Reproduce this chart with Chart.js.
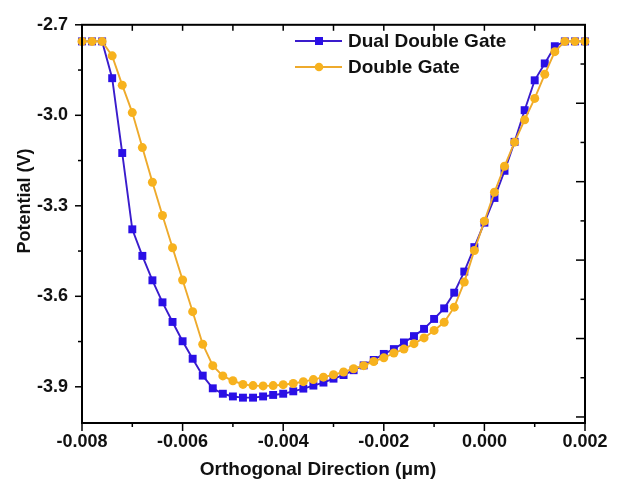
<!DOCTYPE html>
<html>
<head>
<meta charset="utf-8">
<script src="https://cdn.jsdelivr.net/npm/chart.js@4/dist/chart.umd.min.js"></script>
<style>
  html, body { margin: 0; padding: 0; background: #fff; }
  #wrap { width: 619px; height: 484px; }
</style>
</head>
<body>
<div id="wrap"><canvas id="grafico" width="619" height="484"></canvas></div>
<script>
// orthogonal direction (um)
const xValues = [
  -0.008, -0.0078, -0.0076, -0.0074, -0.0072, -0.007, -0.0068, -0.0066, -0.0064, -0.0062,
  -0.006, -0.0058, -0.0056, -0.0054, -0.0052, -0.005, -0.0048, -0.0046, -0.0044, -0.0042,
  -0.004, -0.0038, -0.0036, -0.0034, -0.0032, -0.003, -0.0028, -0.0026, -0.0024, -0.0022,
  -0.002, -0.0018, -0.0016, -0.0014, -0.0012, -0.001, -0.0008, -0.0006, -0.0004, -0.0002,
  0, 0.0002, 0.0004, 0.0006, 0.0008, 0.001, 0.0012, 0.0014, 0.0016, 0.0018, 0.002
];
// potential (V)
const dualDoubleGate = [
  -2.755, -2.755, -2.755, -2.877, -3.125, -3.378, -3.466, -3.547, -3.620, -3.685,
  -3.749, -3.807, -3.863, -3.905, -3.923, -3.932, -3.936, -3.936, -3.932, -3.927,
  -3.923, -3.915, -3.906, -3.896, -3.886, -3.873, -3.861, -3.845, -3.829, -3.811,
  -3.791, -3.775, -3.753, -3.732, -3.708, -3.675, -3.640, -3.588, -3.518, -3.437,
  -3.356, -3.274, -3.184, -3.088, -2.983, -2.884, -2.828, -2.771, -2.755, -2.755, -2.755
];
const doubleGate = [
  -2.755, -2.755, -2.755, -2.803, -2.900, -2.991, -3.107, -3.222, -3.332, -3.439,
  -3.546, -3.651, -3.759, -3.830, -3.864, -3.880, -3.892, -3.896, -3.897, -3.896,
  -3.893, -3.889, -3.883, -3.876, -3.868, -3.860, -3.851, -3.840, -3.830, -3.816,
  -3.804, -3.788, -3.775, -3.757, -3.738, -3.713, -3.686, -3.636, -3.553, -3.448,
  -3.351, -3.255, -3.169, -3.089, -3.015, -2.944, -2.864, -2.789, -2.755, -2.755, -2.755
];
const seriesNames = ['Dual Double Gate', 'Double Gate'];

const xMajorTicks = [-0.008, -0.006, -0.004, -0.002, 0, 0.002];
const xMinorTicks = [-0.007, -0.005, -0.003, -0.001, 0.001];
const yMajorTicks = [-3.9, -3.6, -3.3, -3.0, -2.7];
const yMinorTicks = [-3.75, -3.45, -3.15, -2.85];
const rightMajorTicks = [-2.96, -3.22, -3.48, -3.74, -4.0];
const rightMinorTicks = [-2.83, -3.09, -3.35, -3.61, -3.87];

const FONT = 'Arial, "Liberation Sans", sans-serif';

// frame, tick marks, axis titles
const molduraPlugin = {
  id: 'moldura',
  afterDatasetsDraw(chart) {
    const { ctx, chartArea: a, scales: { x, y } } = chart;
    const risco = (x1, y1, x2, y2) => {
      ctx.beginPath(); ctx.moveTo(x1, y1); ctx.lineTo(x2, y2); ctx.stroke();
    };
    ctx.save();
    ctx.strokeStyle = '#000';
    ctx.lineWidth = 1.5;
    xMajorTicks.forEach(v => { const p = x.getPixelForValue(v); risco(p, a.bottom, p, a.bottom + 8); });
    xMinorTicks.forEach(v => { const p = x.getPixelForValue(v); risco(p, a.bottom, p, a.bottom + 4); });
    xMajorTicks.concat(xMinorTicks).forEach(v => {
      const p = x.getPixelForValue(v); risco(p, a.top, p, a.top + 6);
    });
    yMajorTicks.forEach(v => { const p = y.getPixelForValue(v); risco(a.left - 7, p, a.left, p); });
    yMinorTicks.forEach(v => { const p = y.getPixelForValue(v); risco(a.left - 4, p, a.left, p); });
    rightMajorTicks.forEach(v => { const p = y.getPixelForValue(v); risco(a.right - 9, p, a.right, p); });
    rightMinorTicks.forEach(v => { const p = y.getPixelForValue(v); risco(a.right - 4.5, p, a.right, p); });
    ctx.lineWidth = 2;
    ctx.strokeRect(a.left, a.top, a.right - a.left, a.bottom - a.top);

    ctx.fillStyle = '#111';
    ctx.textAlign = 'center';
    ctx.textBaseline = 'middle';
    ctx.font = 'bold 19px ' + FONT;
    ctx.fillText('Orthogonal Direction (\u03bcm)', 318, 470);
    ctx.translate(25, 201);
    ctx.rotate(-Math.PI / 2);
    ctx.font = 'bold 18px ' + FONT;
    ctx.fillText('Potential (V)', 0, 0);
    ctx.restore();
  }
};

// legend inside the plot
const legendaPlugin = {
  id: 'legenda',
  afterDraw(chart) {
    const { ctx } = chart;
    ctx.save();
    chart.data.datasets.forEach((ds, i) => {
      const yy = 41 + i * 26;
      ctx.strokeStyle = ds.borderColor;
      ctx.lineWidth = 2;
      ctx.beginPath(); ctx.moveTo(295, yy); ctx.lineTo(342, yy); ctx.stroke();
      ctx.fillStyle = ds.pointBackgroundColor;
      if (ds.pointStyle === 'rect') {
        ctx.fillRect(319 - 4, yy - 4, 8, 8);
      } else {
        ctx.beginPath(); ctx.arc(319, yy, 4.3, 0, Math.PI * 2); ctx.fill();
      }
      ctx.fillStyle = '#111';
      ctx.font = 'bold 19px ' + FONT;
      ctx.textAlign = 'left';
      ctx.textBaseline = 'middle';
      ctx.fillText(ds.label, 348, yy + 1);
    });
    ctx.restore();
  }
};

const ctx = document.getElementById('grafico').getContext('2d');
new Chart(ctx, {
  type: 'line',
  data: {
    datasets: [
      {
        label: seriesNames[0],
        data: xValues.map((v, i) => ({ x: v, y: dualDoubleGate[i] })),
        borderColor: '#3a1ccc',
        borderWidth: 1.9,
        pointStyle: 'rect',
        pointRadius: 5.6,
        pointBackgroundColor: '#2a0fe6',
        pointBorderWidth: 0,
        tension: 0,
        order: 1
      },
      {
        label: seriesNames[1],
        data: xValues.map((v, i) => ({ x: v, y: doubleGate[i] })),
        borderColor: '#eeaa2c',
        borderWidth: 1.9,
        pointStyle: 'circle',
        pointRadius: 4.5,
        pointBackgroundColor: '#f7b21e',
        pointBorderWidth: 0,
        tension: 0,
        order: 0
      }
    ]
  },
  options: {
    responsive: false,
    animation: false,
    clip: false,
    layout: { padding: { top: 14, right: 34, left: 0, bottom: 0 } },
    plugins: { legend: { display: false }, tooltip: { enabled: false } },
    scales: {
      x: {
        type: 'linear',
        min: -0.008,
        max: 0.002,
        grid: { display: false, drawTicks: false },
        border: { display: false },
        afterBuildTicks: s => { s.ticks = xMajorTicks.map(v => ({ value: v })); },
        afterFit: s => { s.height = 61; },
        ticks: {
          padding: 8,
          color: '#111',
          font: { family: FONT, size: 18, weight: 'bold' },
          callback: v => Number(v).toFixed(3)
        }
      },
      y: {
        type: 'linear',
        min: -4.02,
        max: -2.7,
        grid: { display: false, drawTicks: false },
        border: { display: false },
        afterBuildTicks: s => { s.ticks = yMajorTicks.map(v => ({ value: v })); },
        afterFit: s => { s.width = 82; },
        ticks: {
          padding: 14,
          color: '#111',
          font: { family: FONT, size: 18, weight: 'bold' },
          callback: v => Number(v).toFixed(1)
        }
      }
    }
  },
  plugins: [molduraPlugin, legendaPlugin]
});
</script>
</body>
</html>
